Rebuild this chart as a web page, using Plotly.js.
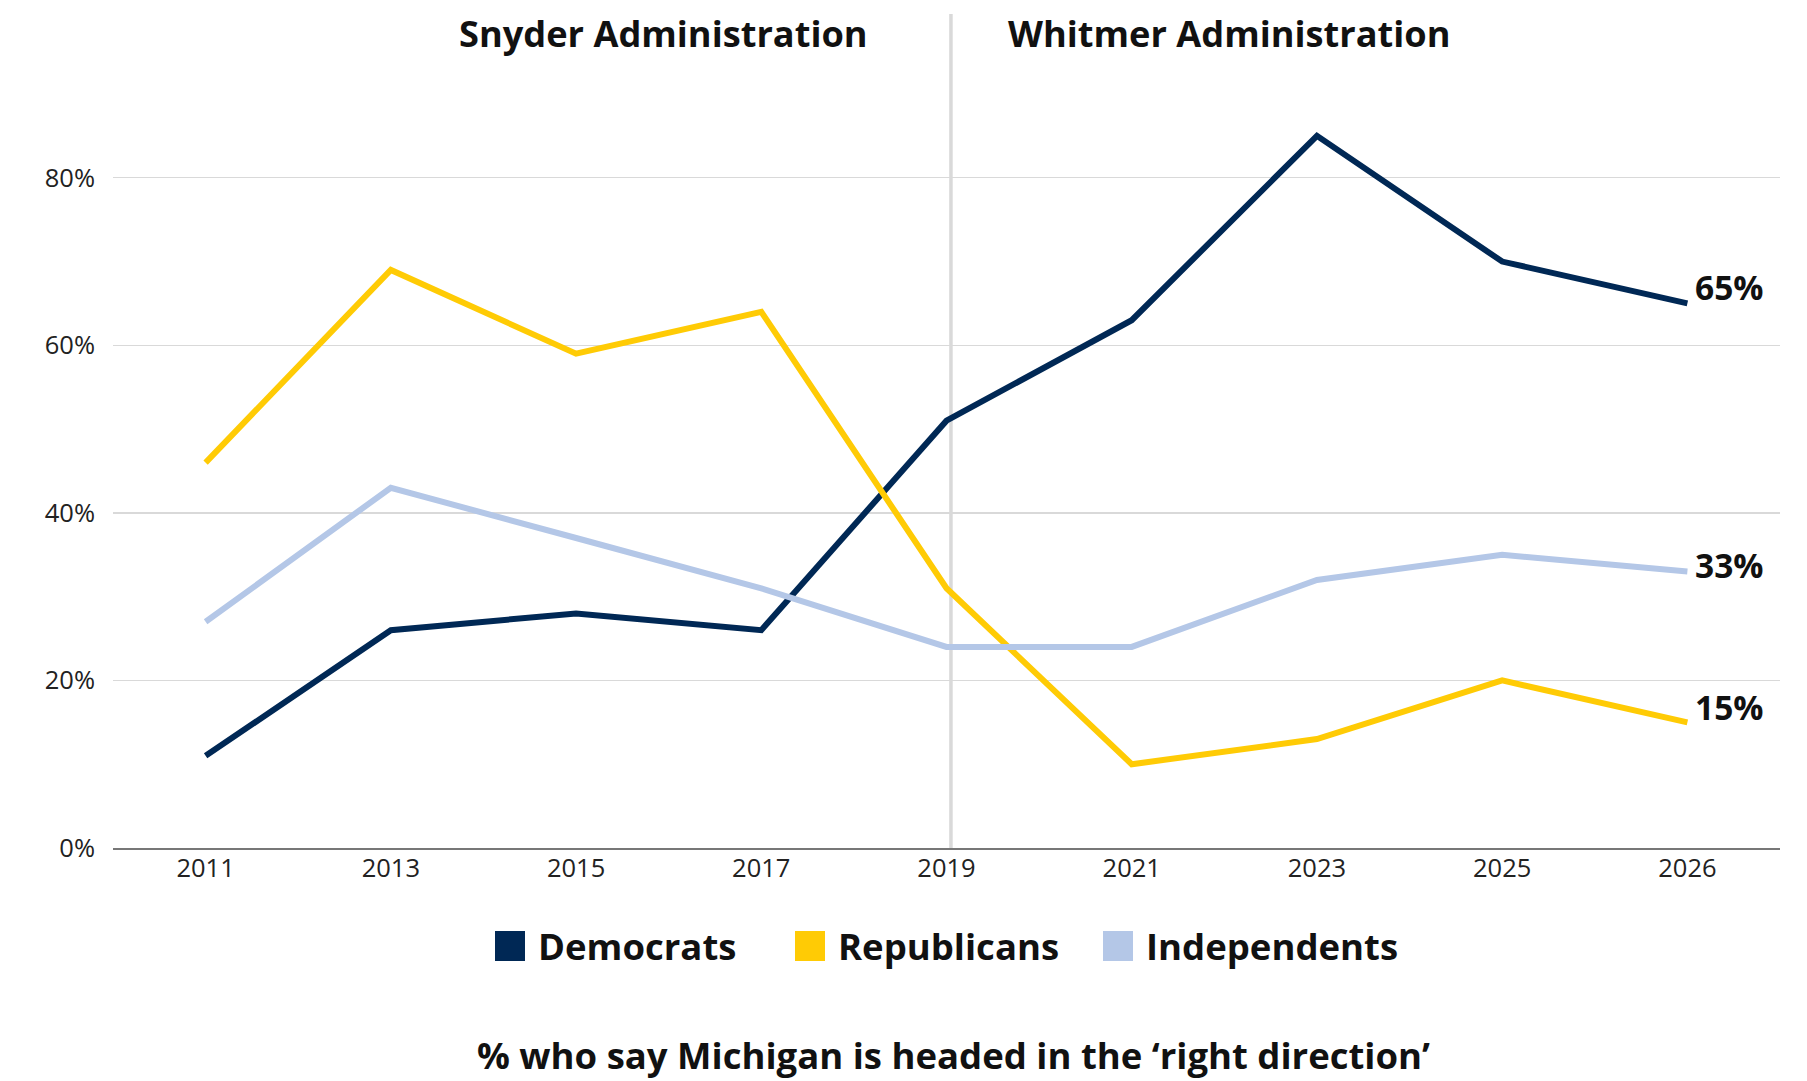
<!DOCTYPE html>
<html>
<head>
<meta charset="utf-8">
<script src="https://cdn.plot.ly/plotly-3.0.1.min.js"></script>
<style>html,body{margin:0;padding:0;background:#fff;}#chart{width:1807px;height:1081px;}</style>
</head>
<body>
<div id="chart"></div>
<script>
// ---- data ----
const years = ['2011', '2013', '2015', '2017', '2019', '2021', '2023', '2025', '2026'];
const democrats = [11, 26, 28, 26, 51, 63, 85, 70, 65];
const republicans = [46, 69, 59, 64, 31, 10, 13, 20, 15];
const independents = [27, 43, 37, 31, 24, 24, 32, 35, 33];
const seriesNames = ['Democrats', 'Republicans', 'Independents'];
const yTicks = [0, 20, 40, 60, 80];
const yTickLabels = ['0%', '20%', '40%', '60%', '80%'];
const periodLabels = ['Snyder Administration', 'Whitmer Administration'];
const dividerYear = '2019';
const chartTitle = '% who say Michigan is headed in the \u2018right direction\u2019';

// ---- styling ----
const colors = ['#002855', '#FFCB05', '#B4C7E7'];
const boldFont = '"Open Sans", "Noto Sans", sans-serif';
const tickFont = '"Open Sans", "Noto Sans", sans-serif';
const W = 1807, H = 1081;
const M = {l: 113, r: 27, t: 94, b: 233};
const plotW = W - M.l - M.r, plotH = H - M.t - M.b;
const px2x = px => (px - M.l) / plotW;
const px2y = py => (H - M.b - py) / plotH;

const series = [democrats, republicans, independents];
const traces = series.map((vals, i) => ({
  type: 'scatter', mode: 'lines', name: seriesNames[i],
  x: years, y: vals,
  line: {color: colors[i], width: 6},
  showlegend: false, hoverinfo: 'x+y+name'
}));

// end-of-line labels (order: Democrats, Republicans, Independents)
const endShift = [16, 15, 7];
const annotations = series.map((vals, i) => ({
  xref: 'x', yref: 'y', x: years.length - 1, y: vals[vals.length - 1],
  text: vals[vals.length - 1] + '%', showarrow: false,
  xanchor: 'left', yanchor: 'middle', xshift: 6, yshift: endShift[i],
  font: {family: boldFont, size: 33.5, color: '#111', weight: 'bold'}
}));

// administration headers
const headerX = [663.5, 1228.6];
periodLabels.forEach((t, i) => annotations.push({
  xref: 'paper', yref: 'paper', x: px2x(headerX[i]), y: px2y(33),
  text: t, showarrow: false, xanchor: 'center', yanchor: 'middle',
  font: {family: boldFont, size: 36.2, color: '#111', weight: 'bold'}
}));

// manual legend (square swatches)
const legendSquareX = [495, 795, 1103];
const legendCY = 946, sq = 30;
const shapes = [];
seriesNames.forEach((n, i) => {
  shapes.push({
    type: 'rect', xref: 'paper', yref: 'paper',
    x0: px2x(legendSquareX[i]), x1: px2x(legendSquareX[i] + sq),
    y0: px2y(legendCY + sq / 2), y1: px2y(legendCY - sq / 2),
    fillcolor: colors[i], line: {width: 0}
  });
  annotations.push({
    xref: 'paper', yref: 'paper', x: px2x(legendSquareX[i] + sq + 11), y: px2y(legendCY),
    text: n, showarrow: false, xanchor: 'left', yanchor: 'middle',
    font: {family: boldFont, size: 36.5, color: '#111', weight: 'bold'}
  });
});

// administration divider
shapes.push({
  type: 'line', xref: 'x', yref: 'paper',
  x0: years.indexOf(dividerYear) + 0.024, x1: years.indexOf(dividerYear) + 0.024,
  y0: 0, y1: px2y(14),
  line: {color: '#d9d9d9', width: 3.5}, layer: 'below'
});

const layout = {
  width: W, height: H,
  margin: M,
  paper_bgcolor: '#fff', plot_bgcolor: '#fff',
  showlegend: false,
  title: {
    text: chartTitle, xref: 'container', yref: 'container',
    x: 953.5 / W, xanchor: 'center', y: 1 - 1056 / H, yanchor: 'middle',
    font: {family: boldFont, size: 36.5, color: '#111', weight: 'bold'}
  },
  xaxis: {
    type: 'category', range: [-0.5, years.length - 0.5],
    showgrid: false, zeroline: false,
    showline: true, linecolor: '#777', linewidth: 2,
    ticks: '', tickfont: {family: tickFont, size: 25.5, color: '#222'},
    ticklabelstandoff: -4,
    fixedrange: true
  },
  yaxis: {
    range: [0, 90], tickmode: 'array', tickvals: yTicks, ticktext: yTickLabels,
    showgrid: true, gridcolor: '#d9d9d9', gridwidth: 1.3,
    zeroline: false, showline: false, ticks: '',
    tickfont: {family: tickFont, size: 25.5, color: '#222'},
    ticklabelstandoff: 17,
    fixedrange: true
  },
  shapes: shapes,
  annotations: annotations
};

Plotly.newPlot('chart', traces, layout, {displayModeBar: false, staticPlot: true});
</script>
</body>
</html>
